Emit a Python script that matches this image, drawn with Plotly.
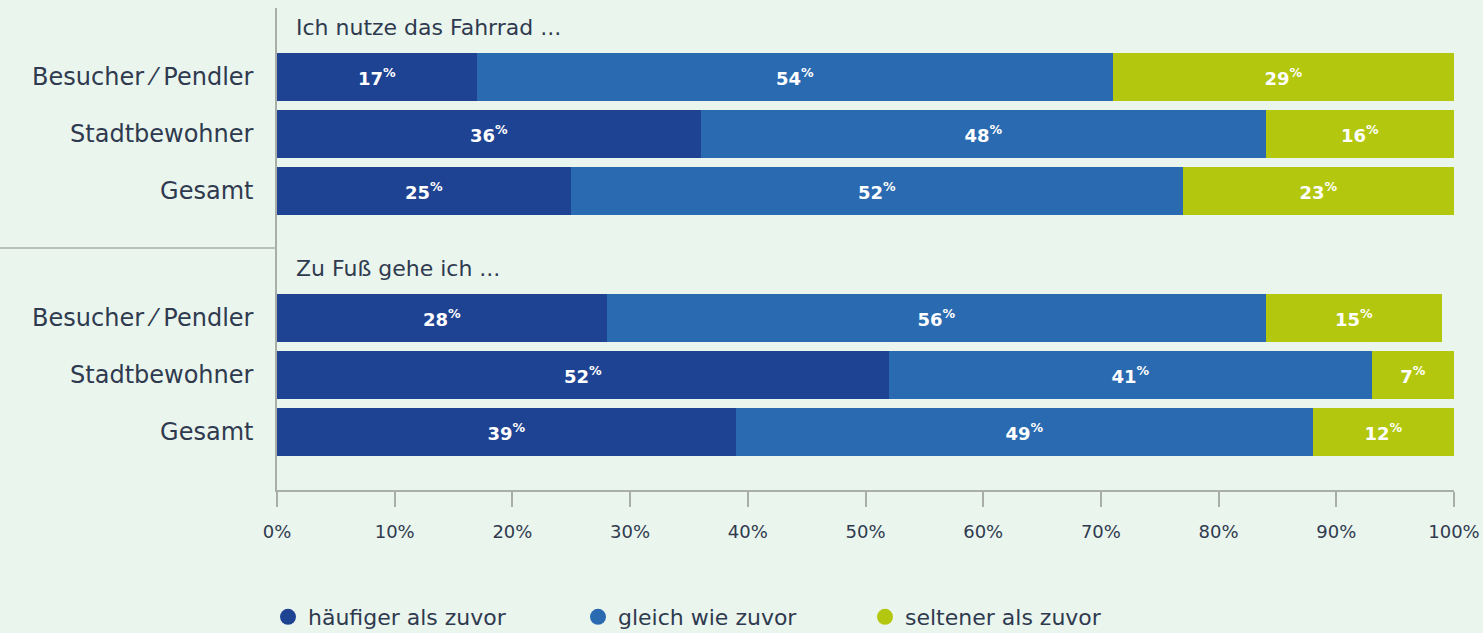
import plotly.graph_objects as go

# Survey: how often people cycle / walk compared with before
groups = ["Ich nutze das Fahrrad ...", "Zu Fuß gehe ich ..."]
respondents = ["Besucher/Pendler", "Stadtbewohner", "Gesamt"]
respondent_labels = ["Besucher ⁄ Pendler", "Stadtbewohner", "Gesamt"]

series_names = ["häufiger als zuvor", "gleich wie zuvor", "seltener als zuvor"]

# percentages per group, rows in order of `respondents`
fahrrad_haeufiger = [17, 36, 25]
fahrrad_gleich = [54, 48, 52]
fahrrad_seltener = [29, 16, 23]

fuss_haeufiger = [28, 52, 39]
fuss_gleich = [56, 41, 49]
fuss_seltener = [15, 7, 12]

x_ticks = [0, 10, 20, 30, 40, 50, 60, 70, 80, 90, 100]

colors = ["#1F4393", "#2A6AB1", "#B2C70D"]
bg = "#EAF5EE"
text_dark = "#2F3A4F"
line_gray = "#A9AEA8"
font_family = "DejaVu Sans"

W, H = 1483, 633
M_L, M_R, M_T, M_B = 277, 29, 8, 143

# row layout: rows one unit apart, extra gap between the two groups
group_gap = 2.23
row_pos = [0, 1, 2]
group_starts = [0, 2 + group_gap]
y_all = [g + r for g in group_starts for r in row_pos]

series_values = [
    fahrrad_haeufiger + fuss_haeufiger,
    fahrrad_gleich + fuss_gleich,
    fahrrad_seltener + fuss_seltener,
]

# one legend box per series so each entry sits at its own spot
legend_ids = ["legend", "legend2", "legend3"]
legend_left_px = [268, 578, 865]

fig = go.Figure()
for name, vals, col, lg in zip(series_names, series_values, colors, legend_ids):
    fig.add_trace(go.Bar(
        x=vals,
        y=y_all,
        orientation="h",
        width=0.84,
        marker=dict(color=col, line=dict(width=0)),
        text=[f"{v}<sup>%</sup>" for v in vals],
        texttemplate="%{text}",
        textposition="inside",
        insidetextanchor="middle",
        textangle=0,
        textfont=dict(family=font_family, size=18, color="white", weight="bold"),
        showlegend=False,
        hoverinfo="skip",
    ))
    # circular legend swatch
    fig.add_trace(go.Scatter(
        x=[None], y=[None], mode="markers", name=name, legend=lg,
        marker=dict(color=col, size=22, symbol="circle"),
    ))

# group headings
for g, title in zip(group_starts, groups):
    fig.add_annotation(
        x=0, xref="paper", y=g - 0.86, yref="y",
        text=title, showarrow=False, xanchor="left", yanchor="middle",
        xshift=17,
        font=dict(family=font_family, size=22, color=text_dark),
    )

# separator line between the groups, left of the axis
sep_y = 2 + group_gap * 0.45
plot_w = W - M_L - M_R
fig.add_shape(
    type="line", xref="paper", yref="y",
    x0=-M_L / plot_w, x1=0, y0=sep_y, y1=sep_y,
    line=dict(color=line_gray, width=1.5),
)

legend_style = dict(
    orientation="h",
    xref="container",
    yref="container",
    xanchor="left",
    y=1 - 617 / H,
    yanchor="middle",
    bgcolor="rgba(0,0,0,0)",
    font=dict(family=font_family, size=22, color=text_dark),
    itemsizing="trace",
)
legends = {lg: dict(legend_style, x=px / W) for lg, px in zip(legend_ids, legend_left_px)}

fig.update_layout(
    width=W,
    height=H,
    paper_bgcolor=bg,
    plot_bgcolor=bg,
    barmode="stack",
    bargap=0,
    margin=dict(l=M_L, r=M_R, t=M_T, b=M_B, autoexpand=False),
    font=dict(family=font_family, color=text_dark),
    xaxis=dict(
        range=[0, 100],
        tickvals=x_ticks,
        ticktext=[f"{t}%" for t in x_ticks],
        showgrid=False,
        zeroline=False,
        showline=True,
        linecolor=line_gray,
        linewidth=1.5,
        ticks="outside",
        ticklen=15,
        tickwidth=1.5,
        tickcolor=line_gray,
        ticklabelstandoff=10,
        tickfont=dict(family=font_family, size=18, color=text_dark),
        fixedrange=True,
    ),
    yaxis=dict(
        range=[7.25, -1.21],
        tickvals=y_all,
        ticktext=respondent_labels * 2,
        showgrid=False,
        zeroline=False,
        showline=True,
        linecolor=line_gray,
        linewidth=1.5,
        ticks="",
        ticklabelstandoff=17,
        tickfont=dict(family=font_family, size=24, color=text_dark),
        fixedrange=True,
    ),
    **legends,
)

fig.write_html("out.html")
